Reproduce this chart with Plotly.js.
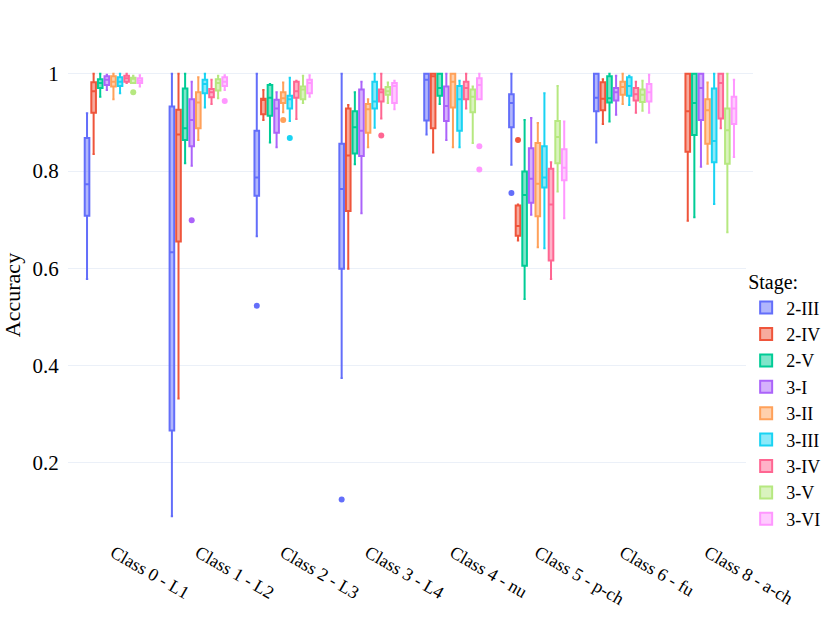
<!DOCTYPE html>
<html>
<head>
<meta charset="utf-8">
<script src="https://cdn.plot.ly/plotly-3.0.1.min.js"></script>
<style>html,body{margin:0;padding:0;background:#fff;}#chart{width:830px;height:624px;}</style>
</head>
<body>
<div id="chart"></div>
<script>
// Categories (x) and stages (series)
const categories = ['Class 0 - L1','Class 1 - L2','Class 2 - L3','Class 3 - L4','Class 4 - nu','Class 5 - p-ch','Class 6 - fu','Class 8 - a-ch'];
const stages = ['2-III','2-IV','2-V','3-I','3-II','3-III','3-IV','3-V','3-VI'];
const colors = ['#636efa','#EF553B','#00cc96','#ab63fa','#FFA15A','#19d3f3','#FF6692','#B6E880','#FF97FF'];

// Per stage, per class: [lower whisker, q1, median, q3, upper whisker]
const stat_2III = [[0.578,0.708,0.773,0.868,0.919],[0.090,0.266,0.633,0.933,1.0],[0.666,0.749,0.787,0.883,1.0],[0.374,0.599,0.763,0.856,1.0],[0.875,0.904,0.988,1.0,1.0],[0.813,0.890,0.940,0.958,1.0],[0.859,0.923,0.951,1.0,1.0],null];
const stat_2IV  = [[0.835,0.920,0.964,0.983,1.0],[0.332,0.655,0.875,0.926,1.0],[0.905,0.917,0.946,0.949,0.967],[0.599,0.718,0.832,0.929,0.936],[0.838,0.888,0.995,1.0,1.0],[0.657,0.667,0.687,0.729,0.731],[0.897,0.925,0.949,0.983,0.989],[0.698,0.840,0.923,1.0,1.0]];
const stat_2V   = [[0.953,0.971,0.981,0.989,1.0],[0.816,0.864,0.888,0.970,1.0],[0.859,0.914,0.951,0.977,0.979],[0.814,0.836,0.890,0.923,0.962],[0.938,0.955,0.971,1.0,1.0],[0.537,0.605,0.751,0.799,0.905],[0.902,0.941,0.950,0.995,1.0],[0.705,0.874,0.940,1.0,1.0]];
const stat_3I   = [[0.967,0.977,0.988,0.995,0.998],[0.811,0.851,0.905,0.948,0.984],[0.849,0.879,0.929,0.947,0.962],[0.713,0.831,0.883,0.968,0.984],[0.864,0.903,0.934,0.974,1.0],[0.710,0.735,0.784,0.847,0.909],[0.916,0.945,0.962,0.971,0.996],[0.809,0.905,0.971,1.0,1.0]];
const stat_3II  = [[0.948,0.974,0.984,0.995,1.0],[0.864,0.888,0.941,0.962,0.993],[0.921,0.940,0.950,0.962,0.982],[0.849,0.879,0.927,0.938,0.948],[0.849,0.931,0.984,1.0,1.0],[0.643,0.707,0.774,0.858,0.899],[0.938,0.957,0.973,0.984,1.0],[0.815,0.856,0.925,0.948,0.982]];
const stat_3III = [[0.960,0.975,0.984,0.993,1.0],[0.931,0.960,0.979,0.988,1.0],[0.903,0.929,0.948,0.955,0.992],[0.889,0.929,0.943,0.984,1.0],[0.849,0.883,0.948,0.975,0.986],[0.641,0.766,0.787,0.851,0.960],[0.936,0.955,0.975,0.993,0.996],[0.732,0.818,0.862,0.970,1.0]];
const stat_3IV  = [[0.981,0.984,0.991,0.996,1.0],[0.938,0.952,0.962,0.969,0.988],[0.907,0.951,0.964,0.984,0.986],[0.908,0.943,0.962,0.968,1.0],[0.929,0.948,0.971,0.984,1.0],[0.578,0.616,0.731,0.805,0.818],[0.920,0.945,0.958,0.971,0.984],[0.888,0.908,0.981,1.0,1.0]];
const stat_3V   = [[0.981,0.981,0.990,0.992,0.996],[0.950,0.966,0.981,0.989,0.996],[0.940,0.948,0.968,0.974,0.996],[0.940,0.957,0.964,0.973,0.982],[0.858,0.921,0.953,0.968,0.974],[0.758,0.816,0.870,0.903,0.975],[0.924,0.942,0.957,0.968,0.986],[0.674,0.815,0.884,0.929,1.0]];
const stat_3VI  = [[0.974,0.981,0.986,0.991,0.997],[0.967,0.975,0.984,0.993,0.997],[0.953,0.960,0.981,0.988,0.997],[0.927,0.940,0.975,0.981,0.986],[0.948,0.948,0.977,0.991,1.0],[0.703,0.781,0.807,0.845,0.902],[0.920,0.943,0.962,0.979,0.998],[0.829,0.897,0.929,0.953,0.988]];

// Outlier points per stage, per class
const out_2III = [[],[],[0.523],[0.124],[],[0.755],[],[]];
const out_2IV  = [[],[],[],[],[],[0.864],[],[]];
const out_2V   = [[],[],[],[],[],[],[],[]];
const out_3I   = [[],[0.699],[],[],[],[],[],[]];
const out_3II  = [[],[],[0.905],[],[],[],[],[]];
const out_3III = [[],[],[0.868],[],[],[],[],[]];
const out_3IV  = [[],[],[],[0.873],[],[],[],[]];
const out_3V   = [[0.962],[],[],[],[],[],[],[]];
const out_3VI  = [[],[0.944],[],[],[0.851,0.803],[],[],[]];

const stats = [stat_2III,stat_2IV,stat_2V,stat_3I,stat_3II,stat_3III,stat_3IV,stat_3V,stat_3VI];
const outs = [out_2III,out_2IV,out_2V,out_3I,out_3II,out_3III,out_3IV,out_3V,out_3VI];

const traces = stages.map((name, s) => {
  const xs = [], lf = [], q1 = [], med = [], q3 = [], uf = [], pts = [];
  categories.forEach((c, i) => {
    const st = stats[s][i];
    if (!st) return;
    xs.push(c); lf.push(st[0]); q1.push(st[1]); med.push(st[2]); q3.push(st[3]); uf.push(st[4]);
    // sample points: the five summary values plus any outliers
    pts.push(st.concat(outs[s][i]));
  });
  return {
    type: 'box', name: name, x: xs, y: pts,
    lowerfence: lf, q1: q1, median: med, q3: q3, upperfence: uf,
    boxpoints: 'outliers', marker: {color: colors[s], size: 6}, line: {color: colors[s], width: 2}
  };
});

const FONT = 'Liberation Serif';
const layout = {
  width: 830, height: 624,
  paper_bgcolor: '#fff', plot_bgcolor: '#fff',
  font: {family: FONT, size: 20, color: '#000'},
  margin: {l: 68, r: 77, t: 52, b: 86, autoexpand: false},
  boxmode: 'group',
  showlegend: true,
  legend: {title: {text: 'Stage:', font: {family: FONT, size: 20}}, x: 0.99, xanchor: 'left', y: 0.565, yanchor: 'top', font: {family: FONT, size: 18}},
  xaxis: {type: 'category', categoryarray: categories, categoryorder: 'array', tickangle: 30, showgrid: false, zeroline: false, showline: false, automargin: false, tickfont: {family: FONT, size: 18}},
  yaxis: {title: {text: 'Accuracy', font: {family: FONT, size: 22}}, range: [0.045, 1.045], dtick: 0.2, tick0: 0, showgrid: true, gridcolor: '#EBF0F8', gridwidth: 1, zeroline: false, showline: false, automargin: false, ticks: 'outside', ticklen: 4, tickcolor: 'rgba(0,0,0,0)', tickfont: {family: FONT, size: 21}}
};

Plotly.newPlot('chart', traces, layout, {displayModeBar: false, staticPlot: true});
</script>
</body>
</html>
